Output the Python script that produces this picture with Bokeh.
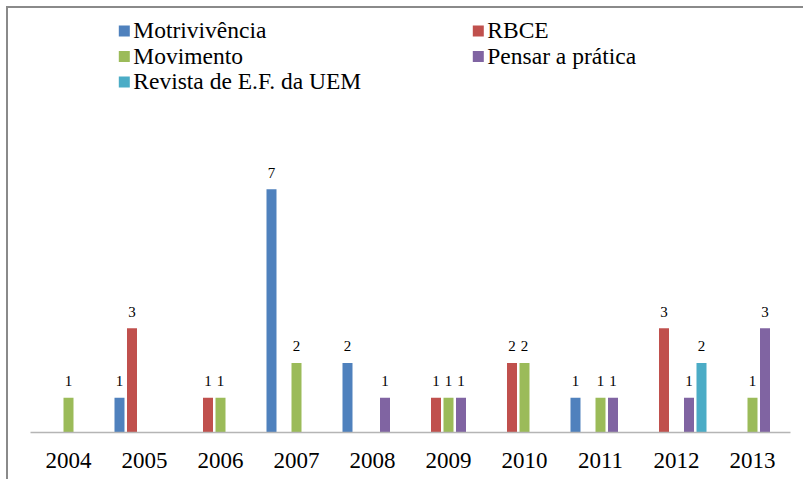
from bokeh.plotting import figure
from bokeh.models import ColumnDataSource, FactorRange, Range1d, CustomJS
from bokeh.events import DocumentReady
from bokeh.transform import dodge
from bokeh.core.properties import value
from bokeh.embed import file_html
from bokeh.resources import INLINE

years = ["2004", "2005", "2006", "2007", "2008", "2009", "2010", "2011", "2012", "2013"]
series_names = ["Motrivivência", "RBCE", "Movimento", "Pensar a prática", "Revista de E.F. da UEM"]
motrivivencia = [0, 1, 0, 7, 2, 0, 0, 1, 0, 0]
rbce = [0, 3, 1, 0, 0, 1, 2, 0, 3, 0]
movimento = [1, 0, 1, 2, 0, 1, 2, 1, 0, 1]
pensar = [0, 0, 0, 0, 1, 1, 0, 1, 1, 3]
revista = [0, 0, 0, 0, 0, 0, 0, 0, 2, 0]
colors = ["#4F81BD", "#C0504D", "#9BBB59", "#8064A2", "#4BACC6"]

all_series = [motrivivencia, rbce, movimento, pensar, revista]

FONT = "Liberation Serif"

# frame geometry (canvas px) used to place the legend in data units
FRAME_W, FRAME_H = 760.0, 424.0
Y_MAX = 12.2
N_CAT = len(years)

p = figure(
    width=797, height=473,
    x_range=FactorRange(*years, range_padding=0, factor_padding=0),
    y_range=Range1d(0, Y_MAX),
    output_backend="svg", toolbar_location=None,
    min_border_left=22, min_border_right=15, min_border_top=0, min_border_bottom=49,
)
p.styles = {"margin-left": "8px", "margin-top": "8px",
            "box-shadow": "-2px -2px 0 0 #8a8a8a",
            "font-family": "'Liberation Serif', serif"}
p.outline_line_color = None
p.background_fill_color = "white"
p.border_fill_color = "white"
p.xgrid.visible = False
p.ygrid.visible = False
p.yaxis.visible = False

ax = p.xaxis[0]
ax.axis_line_color = "#b5b5b5"
ax.axis_line_width = 1.5
ax.major_tick_line_color = None
ax.minor_tick_line_color = None
ax.major_tick_out = 0
ax.major_label_standoff = 20
ax.major_label_text_font = FONT
ax.major_label_text_font_size = "23px"
ax.major_label_text_color = "black"

text_renderers = []
pitch = 0.1645
bar_w = 0.1316
for i, (name, vals, col) in enumerate(zip(series_names, all_series, colors)):
    xs = [y for y, v in zip(years, vals) if v > 0]
    vs = [v for v in vals if v > 0]
    src = ColumnDataSource(dict(year=xs, val=vs, label=[str(v) for v in vs]))
    off = (i - 2) * pitch
    p.vbar(x=dodge("year", off, range=p.x_range), top="val", width=bar_w,
           source=src, fill_color=col, line_color=None)
    t = p.text(x=dodge("year", off, range=p.x_range), y="val", text="label", source=src,
               text_align="center", text_baseline="alphabetic", y_offset=-16.5,
               text_font=value(FONT), text_font_size="15px", text_color="black")
    text_renderers.append(t)

# legend: two columns, entries laid out row by row (Excel style)
def fx(px):  # frame px from left -> synthetic categorical coordinate
    return px / FRAME_W * N_CAT

def fy(py):  # frame px from top -> data y
    return (FRAME_H - py) / FRAME_H * Y_MAX

col_left = [88.3, 442.3]         # swatch left edge, frame px
row_center = [22.5, 48.0, 73.5]  # swatch centre, frame px from top
sw = 11
sx, sy, tx, ty, lbl, cl = [], [], [], [], [], []
for k, name in enumerate(series_names):
    c, r = k % 2, k // 2
    sx.append(fx(col_left[c] + sw / 2))
    sy.append(fy(row_center[r]))
    tx.append(fx(col_left[c] + sw + 3.5))
    ty.append(fy(row_center[r] - 0.8))
    lbl.append(name)
    cl.append(colors[k])
leg_src = ColumnDataSource(dict(sx=sx, sy=sy, tx=tx, ty=ty, label=lbl, color=cl))
p.rect(x="sx", y="sy", width=sw, height=sw, width_units="screen", height_units="screen",
       fill_color="color", line_color=None, source=leg_src)
lt = p.text(x="tx", y="ty", text="label", source=leg_src, text_align="left",
            text_baseline="alphabetic", text_font=value(FONT), text_font_size="23.5px",
            text_color="black")
text_renderers.append(lt)

# re-apply the serif family once the page's fonts are ready (forces a repaint)
p.js_on_event(DocumentReady, CustomJS(args=dict(rs=text_renderers), code="""
const apply = () => {
  for (const r of rs) {
    r.glyph.text_font = {value: "'Liberation Serif'"};
  }
};
if (document.fonts && document.fonts.ready) {
  document.fonts.ready.then(() => setTimeout(apply, 50));
} else {
  setTimeout(apply, 50);
}
"""))

open("out.html", "w").write(file_html(p, INLINE))
